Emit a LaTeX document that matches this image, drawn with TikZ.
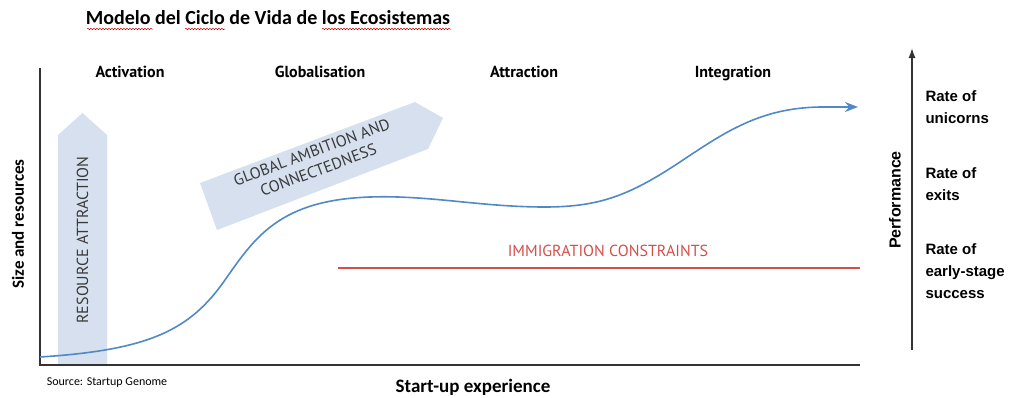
\documentclass[tikz,border=0pt]{standalone}
\usepackage{fontspec}
\setmainfont{Carlito}
\newfontfamily\dinfont{PT Sans}
\newfontfamily\arialfont{Liberation Sans}
\usetikzlibrary{arrows.meta,decorations.pathmorphing}
\definecolor{curveblue}{HTML}{5089C6}
\definecolor{arrowfill}{HTML}{D6E0EE}
\definecolor{conred}{HTML}{D24F4A}
\definecolor{axisgray}{HTML}{333333}
\definecolor{textgray}{HTML}{3A3A3A}
\tikzset{
  stage/.style={font=\dinfont\bfseries\fontsize{16}{18}\selectfont, text=black, anchor=base},
  bigarrow/.style={fill=arrowfill, draw=none},
  arrowtext/.style={font=\dinfont\fontsize{16}{19}\selectfont, text=textgray, align=center},
  axisline/.style={draw=axisgray, line width=1.4pt},
  rate/.style={font=\arialfont\bfseries\fontsize{15}{22}\selectfont, align=left, anchor=west},
  squiggle/.style={draw=red!80!black, line width=0.5pt, decorate, decoration={snake, amplitude=0.7pt, segment length=3pt}}
}
\begin{document}
\begin{tikzpicture}[x=1pt,y=-1pt]
\useasboundingbox (0,0) rectangle (1010,397);
% title
\node[font=\bfseries\fontsize{20}{22}\selectfont] (title) at (268,18) {Modelo del Ciclo de Vida de los Ecosistemas};
\coordinate (s1a) at (87,29); \coordinate (s1b) at (153,29);
\coordinate (s2a) at (185,29); \coordinate (s2b) at (225,29);
\coordinate (s3a) at (322,29); \coordinate (s3b) at (451,29);
\draw[squiggle] (s1a) -- (s1b);
\draw[squiggle] (s2a) -- (s2b);
\draw[squiggle] (s3a) -- (s3b);
% big arrows
\draw[bigarrow] (58,365) -- (58,135) -- (82.5,113) -- (107,135) -- (107,365) -- cycle;
\node[arrowtext, rotate=90] (res) at (82.5,240) {RESOURCE ATTRACTION};
\draw[bigarrow] (200,183) -- (415,102) -- (443,118) -- (428,149) -- (217,230) -- cycle;
\node[arrowtext, rotate=20.5] (glob) at (315,161) {GLOBAL AMBITION AND\\CONNECTEDNESS};
% axes
\coordinate (origin) at (40,365);
\coordinate (ytop) at (40,68);
\coordinate (xend) at (860,365);
\draw[axisline] (ytop) -- (origin) -- (xend);
% stage labels
\node[stage] (act) at (130,77) {Activation};
\node[stage] (glo) at (320,77) {Globalisation};
\node[stage] (att) at (524,77) {Attraction};
\node[stage] (int) at (733,77) {Integration};
% curve
\draw[curveblue, line width=1.6pt, -{Stealth[length=13pt,width=10pt]}]
  (40,357) .. controls (150,350) and (190,330) .. (225,280)
  .. controls (255,237) and (280,200) .. (370,197)
  .. controls (430,195) and (480,207) .. (545,207)
  .. controls (600,207) and (630,195) .. (680,162)
  .. controls (725,132) and (760,108) .. (820,107) -- (858,107);
% immigration constraints
\coordinate (r1) at (338,268);
\coordinate (r2) at (860,268);
\draw[conred, line width=2pt] (r1) -- (r2);
\node[font=\dinfont\fontsize{16}{18}\selectfont, text=conred] (imm) at (608,251) {IMMIGRATION CONSTRAINTS};
% axis labels
\node[font=\bfseries\fontsize{17}{18}\selectfont, rotate=90] (ylab) at (18,224) {Size and resources};
\node[font=\bfseries\fontsize{19}{20}\selectfont] (xlab) at (473,387) {Start-up experience};
\node[font=\fontsize{12}{14}\selectfont] (src) at (107,383) {Source: Startup Genome};
% performance axis
\coordinate (pbot) at (912,350);
\coordinate (ptop) at (912,48);
\draw[draw=axisgray, line width=1.4pt, -{Latex[length=10pt,width=7pt]}] (pbot) -- (ptop);
\node[font=\arialfont\bfseries\fontsize{16}{18}\selectfont, rotate=90] (perf) at (895,200) {Performance};
\node[rate] (r1t) at (922,107) {Rate of\\unicorns};
\node[rate] (r2t) at (922,184) {Rate of\\exits};
\node[rate] (r3t) at (922,271.5) {Rate of\\early-stage\\success};
\end{tikzpicture}
\end{document}
